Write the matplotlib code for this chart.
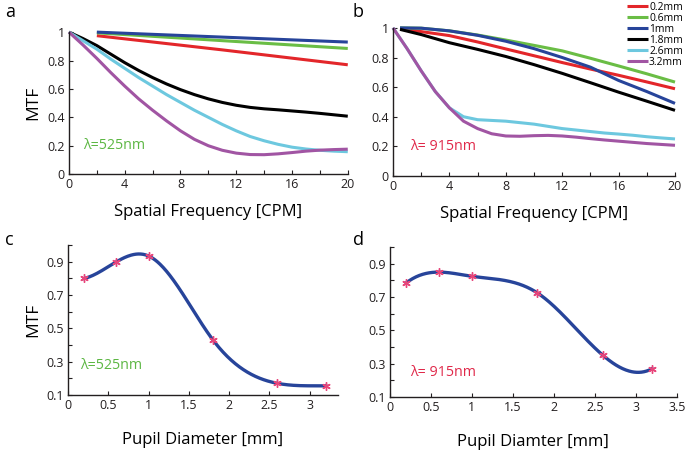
import numpy as np
import matplotlib
matplotlib.use("Agg")
import matplotlib.pyplot as plt

plt.rcParams['font.family'] = ['Open Sans', 'DejaVu Sans']

# MTF vs spatial frequency, lambda = 525 nm (panel a)
freq = np.arange(0, 21)
freq_lin = [2, 11, 20]
a_02 = [0.975, 0.875, 0.77]
a_06 = [0.995, 0.94, 0.885]
a_10 = [1.0, 0.965, 0.93]
a_18 = [1.0, 0.955, 0.905, 0.845, 0.785, 0.73, 0.68, 0.635, 0.595, 0.56, 0.53,
        0.505, 0.485, 0.47, 0.46, 0.453, 0.445, 0.437, 0.428, 0.418, 0.408]
a_26 = [1.0, 0.94, 0.88, 0.81, 0.745, 0.68, 0.62, 0.56, 0.505, 0.45, 0.40,
        0.35, 0.305, 0.265, 0.235, 0.21, 0.19, 0.177, 0.168, 0.162, 0.158]
a_32 = [1.0, 0.91, 0.815, 0.715, 0.62, 0.53, 0.45, 0.375, 0.305, 0.245, 0.20,
        0.168, 0.148, 0.138, 0.137, 0.143, 0.152, 0.162, 0.169, 0.173, 0.176]

# MTF vs spatial frequency, lambda = 915 nm (panel b)
freq_b = [0.5, 2, 4, 6, 8, 10, 12, 14, 16, 18, 20]
b_02 = [0.995, 0.975, 0.948, 0.905, 0.858, 0.812, 0.766, 0.722, 0.68, 0.635, 0.589]
b_06 = [1.0, 0.998, 0.98, 0.952, 0.918, 0.882, 0.845, 0.795, 0.743, 0.69, 0.634]
b_10 = [1.0, 0.998, 0.98, 0.95, 0.91, 0.86, 0.80, 0.735, 0.645, 0.57, 0.49]
b_18 = [0.99, 0.955, 0.90, 0.855, 0.807, 0.752, 0.693, 0.63, 0.566, 0.505, 0.443]
b_26 = [1.0, 0.86, 0.71, 0.57, 0.46, 0.40, 0.38, 0.375, 0.37, 0.36, 0.35,
        0.335, 0.32, 0.31, 0.30, 0.29, 0.283, 0.275, 0.265, 0.257, 0.25]
b_32 = [1.0, 0.86, 0.71, 0.57, 0.46, 0.37, 0.32, 0.285, 0.27, 0.268, 0.272,
        0.274, 0.27, 0.262, 0.252, 0.243, 0.235, 0.227, 0.219, 0.213, 0.207]

labels = ['0.2mm', '0.6mm', '1mm', '1.8mm', '2.6mm', '3.2mm']
colors = ['#e3262a', '#6abd45', '#27449a', '#000000', '#6dc8df', '#a155a3']

# MTF vs pupil diameter (panels c, d)
pupil = [0.2, 0.6, 1.0, 1.8, 2.6, 3.2]
mtf_525 = [0.80, 0.90, 0.935, 0.43, 0.17, 0.155]
mtf_915 = [0.785, 0.85, 0.825, 0.725, 0.35, 0.27]


def spline_curve(x, y, n=300):
    # not-a-knot cubic spline, like matlab's spline()
    x = np.asarray(x, float)
    y = np.asarray(y, float)
    k = len(x)
    h = np.diff(x)
    A = np.zeros((k, k))
    r = np.zeros(k)
    for i in range(1, k - 1):
        A[i, i - 1] = h[i - 1]
        A[i, i] = 2 * (h[i - 1] + h[i])
        A[i, i + 1] = h[i]
        r[i] = 6 * ((y[i + 1] - y[i]) / h[i] - (y[i] - y[i - 1]) / h[i - 1])
    A[0, 0], A[0, 1], A[0, 2] = h[1], -(h[0] + h[1]), h[0]
    A[-1, -3], A[-1, -2], A[-1, -1] = h[-1], -(h[-2] + h[-1]), h[-2]
    M = np.linalg.solve(A, r)
    xs = np.linspace(x[0], x[-1], n)
    j = np.clip(np.searchsorted(x, xs) - 1, 0, k - 2)
    t0 = x[j + 1] - xs
    t1 = xs - x[j]
    hj = h[j]
    ys = ((M[j] * t0**3 + M[j + 1] * t1**3) / (6 * hj)
          + (y[j] / hj - M[j] * hj / 6) * t0
          + (y[j + 1] / hj - M[j + 1] * hj / 6) * t1)
    return xs, ys


def style_axes(ax):
    ax.spines['top'].set_visible(False)
    ax.spines['right'].set_visible(False)
    for s in ['left', 'bottom']:
        ax.spines[s].set_linewidth(1.0)
        ax.spines[s].set_color('#231f20')
    ax.tick_params(direction='in', length=3, width=0.8, labelsize=9,
                   colors='#231f20', pad=3)
    ax.tick_params(which='minor', direction='in', length=3, width=0.8, colors='#231f20')


fig = plt.figure(figsize=(6.85, 4.5), dpi=100)
lw = 2.2
star = (6, 2, 0)  # asterisk marker

# panel a
ax = fig.add_axes([0.1007, 0.613, 0.407, 0.3156])
a_x = [freq_lin, freq_lin, freq_lin, freq, freq, freq]
a_y = [a_02, a_06, a_10, a_18, a_26, a_32]
for xx, yy, c in zip(a_x, a_y, colors):
    ax.plot(xx, yy, color=c, lw=lw, clip_on=False, solid_capstyle='butt')
ax.set_xlim(0, 20)
ax.set_ylim(0, 1)
ax.set_xticks([0, 4, 8, 12, 16, 20])
ax.set_xticks(np.arange(0, 21, 2), minor=True)
ax.set_yticks([0, 0.2, 0.4, 0.6, 0.8, 1])
ax.set_yticklabels(['0', '0.2', '0.4', '0.6', '0.8', '1'])
ax.set_xlabel('Spatial Frequency [CPM]', fontsize=12, labelpad=9)
ax.set_ylabel('MTF', fontsize=12.5, labelpad=4)
ax.text(1, 0.2, 'λ=525nm', color='#5db744', fontsize=10.3, va='center')
style_axes(ax)

# panel b
ax = fig.add_axes([0.5737, 0.609, 0.4117, 0.329])
b_x = [freq_b, freq_b, freq_b, freq_b, freq, freq]
b_y = [b_02, b_06, b_10, b_18, b_26, b_32]
handles = []
for xx, yy, c, lab in zip(b_x, b_y, colors, labels):
    h, = ax.plot(xx, yy, color=c, lw=lw, clip_on=False, label=lab, solid_capstyle='butt')
    handles.append(h)
ax.set_xlim(0, 20)
ax.set_ylim(0, 1)
ax.set_xticks([0, 4, 8, 12, 16, 20])
ax.set_xticks(np.arange(0, 21, 2), minor=True)
ax.set_yticks([0, 0.2, 0.4, 0.6, 0.8, 1])
ax.set_yticklabels(['0', '0.2', '0.4', '0.6', '0.8', '1'])
ax.set_xlabel('Spatial Frequency [CPM]', fontsize=12, labelpad=9)
ax.text(1.2, 0.2, 'λ= 915nm', color='#e0294a', fontsize=10.3, va='center')
style_axes(ax)

fig.legend(handles=handles, loc='upper right', bbox_to_anchor=(1.0, 1.0),
           frameon=False, fontsize=7.4, handlelength=2.0, handletextpad=0.1,
           labelspacing=0.0, borderpad=0.1, borderaxespad=0.1)

# panel c
ax = fig.add_axes([0.0993, 0.1222, 0.394, 0.333])
xs, ys = spline_curve(pupil, mtf_525)
ax.plot(xs, ys, color='#27449a', lw=2.4)
ax.plot(pupil, mtf_525, ls='none', marker=star, ms=6, mew=1.0, color='#e8457a', zorder=3)
ax.set_xlim(0, 3.35)
ax.set_ylim(0.1, 1.0)
ax.set_xticks([0, 0.5, 1, 1.5, 2, 2.5, 3])
ax.set_xticklabels(['0', '0.5', '1', '1.5', '2', '2.5', '3'])
ax.set_yticks([0.1, 0.3, 0.5, 0.7, 0.9])
ax.set_yticks(np.arange(0.2, 1.01, 0.2), minor=True)
ax.set_xlabel('Pupil Diameter [mm]', fontsize=12, labelpad=14)
ax.set_ylabel('MTF', fontsize=12.5, labelpad=4)
ax.text(0.15, 0.28, 'λ=525nm', color='#5db744', fontsize=10.3, va='center')
style_axes(ax)

# panel d
ax = fig.add_axes([0.569, 0.1178, 0.419, 0.333])
xs, ys = spline_curve(pupil, mtf_915)
ax.plot(xs, ys, color='#27449a', lw=2.4)
ax.plot(pupil, mtf_915, ls='none', marker=star, ms=6, mew=1.0, color='#e8457a', zorder=3)
ax.set_xlim(0, 3.5)
ax.set_ylim(0.1, 1.0)
ax.set_xticks([0, 0.5, 1, 1.5, 2, 2.5, 3, 3.5])
ax.set_xticklabels(['0', '0.5', '1', '1.5', '2', '2.5', '3', '3.5'])
ax.set_yticks([0.1, 0.3, 0.5, 0.7, 0.9])
ax.set_yticks(np.arange(0.2, 1.01, 0.2), minor=True)
ax.set_xlabel('Pupil Diamter [mm]', fontsize=12, labelpad=14)
ax.text(0.25, 0.25, 'λ= 915nm', color='#e0294a', fontsize=10.3, va='center')
style_axes(ax)

for lab, x, y in [('a', 0.008, 0.973), ('b', 0.515, 0.973), ('c', 0.008, 0.467), ('d', 0.515, 0.467)]:
    fig.text(x, y, lab, fontsize=13, va='center', ha='left')

fig.savefig('out.png', dpi=100)
